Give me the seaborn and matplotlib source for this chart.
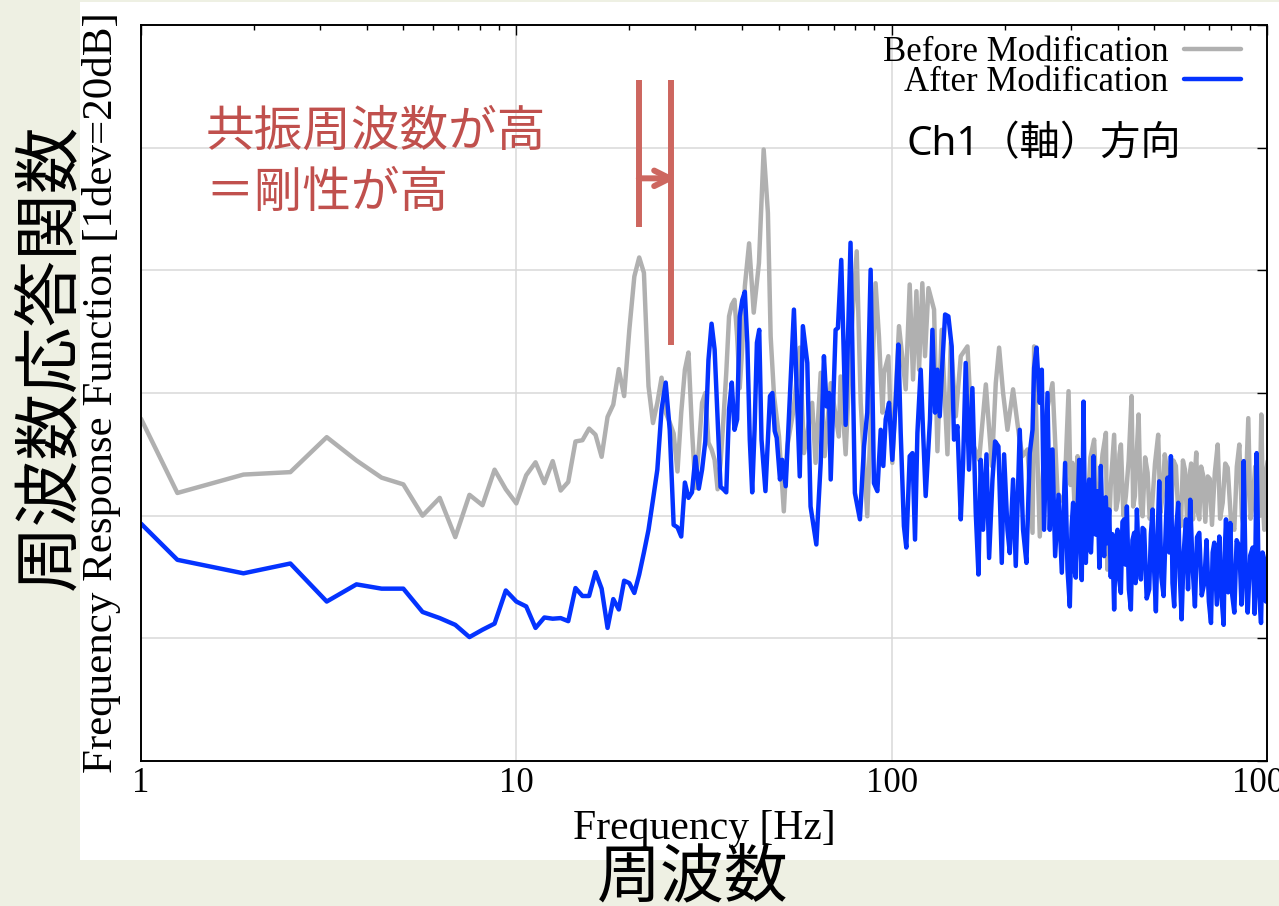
import numpy as np
import pandas as pd
import matplotlib
matplotlib.use("Agg")
import matplotlib.pyplot as plt
import seaborn as sns
from matplotlib.patches import Rectangle
from matplotlib.ticker import NullFormatter, LogLocator

# Frequency response (Hz, dB)
before_freq = [1.0, 1.25, 1.875, 2.5, 3.125, 3.75, 4.375, 5.0, 5.625, 6.25, 6.875, 7.5, 8.125, 8.75,
               9.375, 10.0, 10.625, 11.25, 11.875, 12.5, 13.125, 13.75, 14.375, 15.0, 15.625, 16.25,
               16.875, 17.5, 18.125, 18.75, 19.375, 20.0, 20.625, 21.25, 21.875, 22.5, 23.125, 23.75,
               24.375, 25.0, 25.625, 26.25, 26.875, 27.5, 28.125, 28.75, 29.375, 30.0, 30.625, 31.25,
               31.875, 32.5, 33.125, 33.75, 34.375, 35.0, 35.625, 36.25, 36.875, 37.5, 38.125, 38.75,
               39.375, 40.0, 40.625, 41.7, 42.9, 44.3, 45.6, 46.8, 47.6, 48.6, 50.1, 51.6, 52.7, 54.8,
               56.9, 58.4, 61.4, 62.7, 64.7, 66.3, 68.8, 72.3, 73.1, 75.4, 77.7, 80.7, 82.7, 86.1,
               90.6, 92.5, 94.5, 95.4, 98.0, 100.4, 104.6, 109.0, 111.7, 114.0, 116.4, 118.3, 120.7,
               122.7, 125.3, 129.7, 132.4, 135.9, 140.8, 143.7, 148.2, 152.8, 159.2, 164.1, 171.0,
               178.2, 184.9, 189.4, 193.3, 198.1, 203.5, 210.6, 218.6, 223.1, 230.1, 237.3, 239.6,
               248.1, 257.4, 268.2, 276.6, 288.1,
               296.0, 299.5, 303.4, 308.0, 312.8, 316.0, 319.2, 325.0, 331.1, 338.5, 346.3, 351.5,
               357.1, 364.5, 372.2, 375.6, 383.5, 391.5, 396.0, 400.6, 404.5, 408.1, 414.5, 420.7,
               428.0, 435.7, 440.0, 444.6, 449.5, 454.9, 460.5, 466.1, 473.5, 480.7, 487.0, 493.5,
               503.0, 513.0, 520.0, 527.1, 534.0, 541.2, 548.0, 554.6, 563.0, 571.8, 580.5, 589.7,
               597.0, 604.5, 612.5, 620.7, 628.0, 635.0, 641.5, 648.0, 654.0, 660.1, 667.5, 675.2,
               685.0, 695.0, 704.0, 713.5, 726.0, 739.0, 750.0, 762.0, 774.0, 785.8, 802.0, 818.3,
               831.0, 843.8, 857.0, 870.1, 881.0, 891.6, 904.0, 916.0, 930.0, 944.6, 955.0, 965.7,
               975.0, 983.6, 994.0, 1004.0]
before_db = [-44.2, -56.3, -53.3, -52.9, -47.2, -51.0, -53.8, -54.9, -60.0, -57.1, -63.5, -56.6, -58.3,
             -52.5, -55.7, -58.0, -53.4, -51.3, -54.7, -51.1, -55.9, -54.5, -47.9, -47.7, -45.8, -46.8,
             -50.4, -43.9, -41.9, -36.1, -40.5, -29.7, -21.0, -17.9, -20.4, -38.9, -44.9, -41.6, -37.5,
             -43.2, -44.8, -46.6, -52.8, -43.2, -36.2, -33.4, -46.0, -55.5, -49.2, -41.6, -40.0, -48.1,
             -49.2, -50.9, -55.7, -51.4, -44.3, -36.7, -27.5, -25.6, -24.8, -30.8, -39.2, -32.4, -22.6,
             -15.6, -26.9, -18.8, -0.3, -10.6, -30.8, -40.5, -47.1, -59.3, -48.7, -42.7, -32.6, -49.8,
             -41.6, -51.4, -36.7, -50.3, -38.4, -47.1, -37.3, -50.0, -32.4, -16.9, -41.6, -60.1, -22.1,
             -30.8, -43.2, -36.7, -34.0, -51.4, -29.1, -39.4, -22.3, -37.8, -23.4, -36.2, -22.1, -34.0,
             -22.9, -26.4, -49.5, -29.7, -50.0, -31.8, -43.8, -34.0, -32.4, -48.1, -50.9, -38.6, -51.9,
             -38.4, -32.6, -40.0, -46.0, -39.4, -47.1, -50.3, -49.2, -62.8, -32.4, -63.4, -43.8, -38.4,
             -56.3, -57.9,
             -39.7, -55.0, -51.4, -60.0, -50.3, -58.5, -51.4, -57.0, -60.6, -50.5, -47.6, -58.0,
             -56.8, -50.0, -46.5, -68.8, -55.0, -46.8, -59.0, -57.4, -50.0, -48.4, -60.0, -56.8,
             -51.0, -40.5, -58.5, -56.8, -50.0, -43.5, -58.0, -60.1, -50.5, -53.0, -60.5, -59.0,
             -51.5, -46.8, -59.5, -56.8, -50.0, -52.5, -60.0, -60.6, -51.0, -51.9, -60.0, -61.7,
             -51.0, -52.5, -61.0, -53.8, -51.5, -60.6, -54.0, -49.7, -59.5, -60.6, -52.0, -53.3,
             -61.0, -53.6, -54.0, -61.5, -53.0, -48.4, -60.5, -57.9, -51.5, -52.2, -61.0, -62.3,
             -52.0, -48.4, -60.0, -62.3, -53.0, -44.1, -60.5, -57.9, -52.0, -52.5, -60.0, -43.5,
             -58.0, -62.3, -53.0, -51.1]

after_freq = [1.0, 1.25, 1.875, 2.5, 3.125, 3.75, 4.375, 5.0, 5.625, 6.25, 6.875, 7.5, 8.125, 8.75,
              9.375, 10.0, 10.625, 11.25, 11.875, 12.5, 13.125, 13.75, 14.375, 15.0, 15.625, 16.25,
              16.875, 17.5, 18.125, 18.75, 19.375, 20.0, 20.625, 21.25, 21.875, 22.5, 23.125, 23.75,
              24.375, 25.0, 25.625, 26.25, 26.875, 27.5, 28.125, 28.75, 29.375, 30.0, 30.625, 31.25,
              31.875, 32.5, 33.125, 33.75, 34.375, 35.0, 35.625, 36.25, 36.875, 37.5, 38.125, 38.75,
              39.375, 40.0, 40.625, 41.25, 41.875, 42.5, 43.125, 43.75, 44.375, 45.0, 46.1, 47.4,
              48.1, 48.8, 49.4, 50.4, 51.1, 52.2, 54.9, 56.9, 58.0, 59.6, 60.8, 63.0, 64.7, 66.0,
              67.1, 68.1, 68.8, 70.9, 71.9, 73.4, 75.4, 77.7, 79.8, 82.3, 84.4, 86.1, 87.9, 89.7,
              91.6, 93.5, 95.0, 96.4, 98.4, 100.4, 102.5, 104.2, 105.7, 107.8, 109.4, 111.7, 113.6,
              115.4, 117.1, 119.5, 121.2, 123.2, 126.5, 128.4, 130.5, 132.4, 134.3, 136.5, 138.8,
              141.6, 144.5, 146.6, 149.7, 152.8, 155.0, 157.5, 160.7, 164.1, 167.5, 170.3, 172.7,
              175.2, 178.9, 181.8, 185.6, 188.6, 192.5, 196.5, 199.3, 203.5, 206.4, 210.6, 214.1,
              219.4, 223.9, 228.6, 233.3, 237.3, 239.6, 243.2, 248.1, 251.2, 254.7, 260.1, 263.8,
              268.2, 272.6, 278.3, 284.0, 289.8, 294.1,
              298.3, 301.5, 304.4, 306.8, 309.5, 312.5, 315.9, 318.5, 321.0, 324.5, 327.0, 329.1,
              332.5, 335.9, 339.5, 342.5, 345.1, 347.5, 349.9, 354.0, 357.5, 360.8, 364.5, 368.2,
              372.0, 375.5, 379.8, 383.5, 387.0, 391.5, 395.5, 399.8, 404.0, 408.0, 412.0, 416.4,
              420.0, 423.3, 428.5, 433.8, 438.0, 442.7, 446.5, 450.2, 455.5, 461.3, 466.0, 470.8,
              478.0, 485.5, 490.5, 495.7, 500.5, 505.8, 511.0, 516.2, 523.0, 530.3, 537.0, 543.5,
              549.0, 554.6, 560.0, 565.9, 573.0, 580.0, 586.0, 592.2, 600.0, 608.1, 616.0, 624.4,
              633.0, 642.7, 651.0, 660.1, 670.0, 680.6, 690.0, 700.0, 709.2, 716.5, 723.7, 735.0,
              746.2, 756.0, 766.5, 771.5, 777.6, 788.0, 798.3, 808.0, 818.3, 830.0, 843.8, 855.0,
              866.9, 877.0, 888.4, 902.0, 916.2, 927.0, 938.6, 951.0, 964.0, 973.0, 983.5, 993.0,
              1004.0]
after_db = [-61.3, -67.2, -69.4, -67.8, -74.0, -71.2, -71.9, -71.9, -75.7, -76.7, -77.8, -79.8, -78.6,
            -77.6, -72.2, -74.0, -74.8, -78.3, -76.6, -76.8, -76.7, -77.2, -71.8, -73.1, -73.1, -69.2,
            -71.9, -78.3, -73.6, -75.3, -70.6, -71.0, -72.6, -69.6, -66.0, -62.3, -57.4, -52.5, -42.7,
            -38.3, -46.0, -61.5, -61.9, -63.4, -54.6, -57.1, -56.2, -50.4, -55.6, -52.5, -47.9, -34.6,
            -28.7, -32.9, -44.3, -55.3, -55.7, -56.2, -42.7, -38.3, -46.0, -44.3, -27.5, -24.8, -23.5,
            -31.8, -47.6, -56.2, -46.0, -31.8, -29.7, -47.6, -56.0, -40.5, -40.0, -46.2, -47.3, -54.1,
            -50.9, -55.2, -26.4, -53.6, -29.1, -35.1, -58.5, -64.7, -51.4, -34.0, -42.2, -40.0, -54.1,
            -29.7, -29.4, -18.3, -45.2, -15.5, -56.3, -60.6, -48.7, -43.2, -19.9, -54.7, -56.0, -46.0,
            -51.9, -44.3, -41.6, -50.9, -41.6, -32.1, -46.5, -61.7, -65.2, -50.3, -49.8, -63.9, -46.5,
            -36.2, -46.0, -56.8, -44.3, -29.7, -43.2, -36.2, -43.8, -35.1, -27.2, -27.5, -32.4, -47.6,
            -45.4, -60.6, -51.4, -35.1, -52.5, -39.2, -59.5, -69.6, -50.9, -62.3, -50.0, -66.9, -54.1,
            -47.9, -48.7, -67.7, -50.0, -62.3, -66.1, -54.1, -68.2, -46.0, -62.3, -67.7, -49.8, -46.0,
            -35.9, -32.6, -41.6, -36.2, -62.3, -40.0, -62.3, -49.2, -66.6, -56.6, -69.3, -51.4, -68.8,
            -74.8, -62.0, -57.9, -68.8, -70.1, -60.0, -50.9, -64.0, -70.5, -41.4, -60.0, -67.7,
            -58.0, -54.1, -66.0, -60.5, -50.3, -58.0, -63.1, -56.0, -68.5, -51.9, -62.0, -66.6,
            -57.0, -64.5, -59.0, -70.0, -63.0, -75.3, -64.0, -62.3, -70.5, -72.6, -61.0, -60.6,
            -68.0, -58.5, -72.0, -75.3, -64.0, -62.8, -71.0, -59.0, -67.5, -70.4, -62.0, -62.3,
            -73.5, -72.0, -63.0, -59.0, -69.0, -75.6, -64.0, -54.4, -70.0, -73.1, -62.5, -53.8,
            -66.0, -50.3, -71.0, -74.8, -62.0, -57.9, -70.0, -76.9, -66.0, -60.6, -72.0, -57.4,
            -68.0, -74.8, -63.5, -62.8, -73.0, -71.0, -64.0, -74.0, -77.5, -66.0, -64.4, -74.5,
            -63.4, -73.0, -77.8, -66.0, -60.6, -72.5, -61.2, -73.0, -75.8, -64.0, -65.0, -74.5,
            -51.1, -70.0, -75.8, -66.5, -65.2, -76.0, -49.8, -72.0, -77.5, -66.0, -67.2, -74.0,
            -68.8]

assert len(before_freq) == len(before_db)
assert len(after_freq) == len(after_db)

x_ticks = [1, 10, 100, 1000]
x_tick_labels = ["1", "10", "100", "1000"]
y_ticks = [-100, -80, -60, -40, -20, 0, 20]   # 1 division = 20 dB

# resonance shift marker (Hz / dB)
res_before_hz = 21.2
res_after_hz = 25.9
res_arrow_tip_hz = 26.7
res_before_span = (-13.0, 11.1)
res_after_span = (-32.1, 11.1)
res_arrow_db = -5.0

sns.set_theme(style="white")
plt.rcParams["font.family"] = ["Liberation Serif", "Noto Sans CJK JP", "DejaVu Sans"]
plt.rcParams["text.color"] = "black"
plt.rcParams["axes.labelcolor"] = "black"
plt.rcParams["xtick.color"] = "black"
plt.rcParams["ytick.color"] = "black"
cjk = ["Noto Sans CJK JP", "DejaVu Sans"]
sans_cjk = ["Noto Sans", "Noto Sans CJK JP"]
red_text = "#c0504d"
red_line = "#cd665f"

fig = plt.figure(figsize=(12.79, 9.06), dpi=100, facecolor="#eef0e3")
fig.patches.append(Rectangle((80 / 1279, 1 - 860 / 906), 1, 858 / 906,
                             transform=fig.transFigure, facecolor="white",
                             edgecolor="none", zorder=-1))
ax = fig.add_axes([141 / 1279, 1 - 761 / 906, 1126 / 1279, 736 / 906])

before = pd.DataFrame({"freq": before_freq, "db": before_db})
after = pd.DataFrame({"freq": after_freq, "db": after_db})

sns.lineplot(data=before, x="freq", y="db", ax=ax, color="#b0b0b0", lw=3.2,
             estimator=None, sort=False, label="Before Modification")
sns.lineplot(data=after, x="freq", y="db", ax=ax, color="#0433ff", lw=3.2,
             estimator=None, sort=False, label="After Modification")
for ln in ax.get_lines():
    ln.set_solid_joinstyle("round")

ax.set_xscale("log")
ax.set_xlim(1, 1000)
ax.set_ylim(-100, 20)
ax.set_xticks(x_ticks, labels=x_tick_labels)
ax.xaxis.set_minor_locator(LogLocator(base=10, subs=np.arange(2, 10)))
ax.xaxis.set_minor_formatter(NullFormatter())
ax.set_yticks(y_ticks)
ax.set_yticklabels([])
ax.tick_params(which="both", direction="in", top=True, right=True, color="black")
ax.tick_params(which="major", length=7, width=1.0, labelsize=25, pad=4)
ax.tick_params(which="minor", length=3.5, width=1.0)
ax.grid(True, which="major", color="#d9d9d9", lw=1.1)
ax.set_axisbelow(True)
for sp in ax.spines.values():
    sp.set_color("black")
    sp.set_linewidth(1.4)

ax.set_xlabel("Frequency [Hz]", fontsize=30)
ax.set_ylabel("Frequency Response Function [1dev=20dB]", fontsize=31)
ax.xaxis.set_label_coords(0.5, -0.066)
ax.yaxis.set_label_coords(-0.018, 0.5)

ax.legend(loc="upper right", bbox_to_anchor=(0.977, 0.985), frameon=False,
          markerfirst=False, fontsize=25, handlelength=1.65, handletextpad=0.45,
          labelspacing=-0.08, borderaxespad=0.0, borderpad=0.0)

# resonance shift marker
ax.vlines(res_before_hz, *res_before_span, color=red_line, lw=4.3)
ax.vlines(res_after_hz, *res_after_span, color=red_line, lw=4.3)
ax.annotate("", xy=(res_arrow_tip_hz, res_arrow_db), xytext=(res_before_hz, res_arrow_db),
            arrowprops=dict(arrowstyle="->", color=red_line, lw=4.3,
                            mutation_scale=28, shrinkA=0, shrinkB=0))

ax.text(0.057, 0.855, "共振周波数が高", transform=ax.transAxes, fontsize=35,
        color=red_text, family=cjk, ha="left", va="center")
ax.text(0.057, 0.772, "＝剛性が高", transform=ax.transAxes, fontsize=35,
        color=red_text, family=cjk, ha="left", va="center")
ax.text(0.802, 0.837, "Ch1（軸）方向", transform=ax.transAxes, fontsize=29,
        color="black", family=sans_cjk, ha="center", va="center")

fig.text(50 / 1279, 1 - 357 / 906, "周波数応答関数", rotation=90, fontsize=48,
         family=cjk, ha="center", va="center")
fig.text(693 / 1279, 1 - 878 / 906, "周波数", fontsize=46, family=cjk,
         ha="center", va="center")

fig.savefig("out.png", dpi=100, facecolor=fig.get_facecolor())
